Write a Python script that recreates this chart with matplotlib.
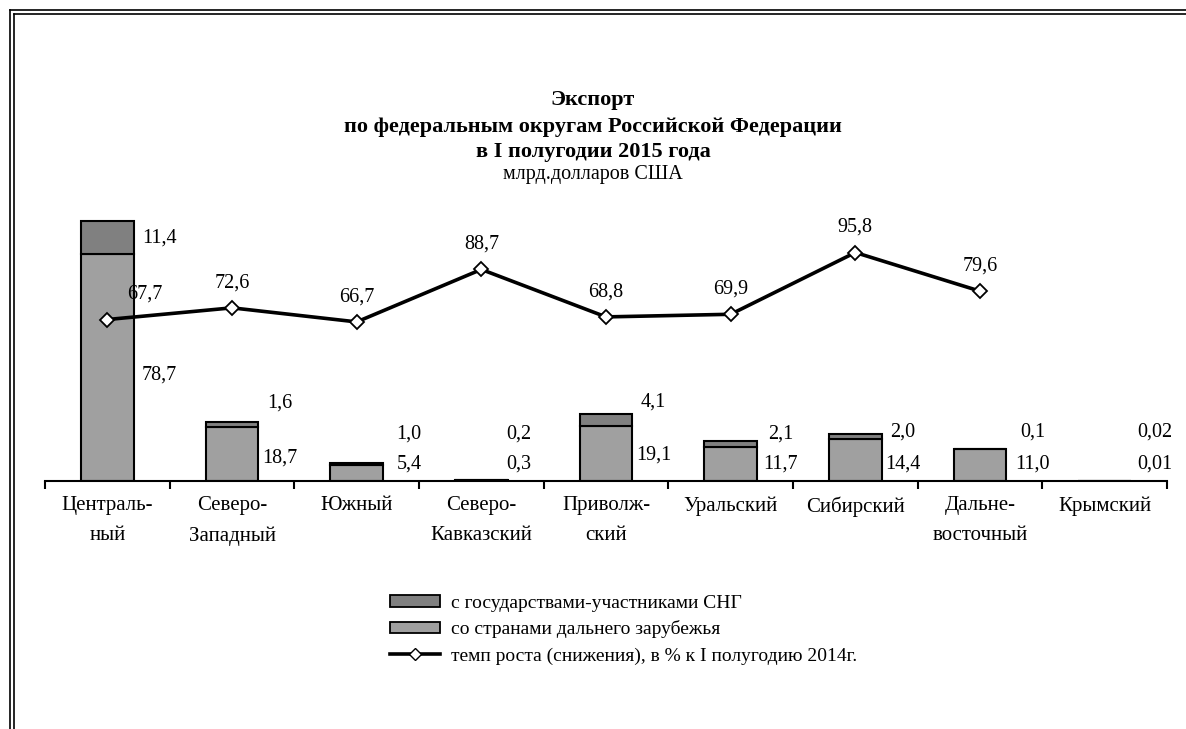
import numpy as np
import matplotlib.pyplot as plt
from matplotlib.lines import Line2D
from matplotlib.patches import Patch

plt.rcParams['font.family'] = ['Liberation Serif', 'DejaVu Serif']

districts = ['Централь-\nный', 'Северо-\nЗападный', 'Южный', 'Северо-\nКавказский',
             'Приволж-\nский', 'Уральский', 'Сибирский', 'Дальне-\nвосточный', 'Крымский']
far_abroad = [78.7, 18.7, 5.4, 0.3, 19.1, 11.7, 14.4, 11.0, 0.01]
cis = [11.4, 1.6, 1.0, 0.2, 4.1, 2.1, 2.0, 0.1, 0.02]
growth = [67.7, 72.6, 66.7, 88.7, 68.8, 69.9, 95.8, 79.6]

# где стоят подписи (в единицах левой оси) - подобрано по картинке
cis_lab_y = [84.2, 27.0, 16.3, 16.3, 27.4, 16.3, 17.0, 17.0, 17.0]
far_lab_y = [36.7, 8.0, 5.9, 5.9, 9.0, 5.9, 5.9, 5.9, 5.9]
lab_dx = [0.42, 0.38, 0.42, 0.30, 0.38, 0.40, 0.38, 0.42, 0.40]


def fmt(v):
    s = '{:.2f}'.format(v) if v < 0.1 else '{:.1f}'.format(v)
    return s.replace('.', ',')


fig = plt.figure(figsize=(11.86, 7.29), dpi=100)
ax = fig.add_axes([45 / 1186, 248 / 729, 1122 / 1186, 288.6 / 729])
ax2 = ax.twinx()

x = np.arange(len(districts))
width = 0.42
ax.bar(x, far_abroad, width, color='#a0a0a0', edgecolor='black', linewidth=1.5, zorder=2)
ax.bar(x, cis, width, bottom=far_abroad, color='#808080', edgecolor='black', linewidth=1.5, zorder=2)

xl = np.arange(len(growth))
ax2.plot(xl, growth, color='black', linewidth=2.6, marker='D', markersize=7,
         markerfacecolor='white', markeredgecolor='black', markeredgewidth=1.3, zorder=3)

ax.set_xlim(-0.5, len(districts) - 0.5)
ax.set_ylim(0, 100)
ax2.set_ylim(0, 121)

numfont = dict(fontsize=14.5, ha='center', va='center')
for i in range(len(districts)):
    ax.text(x[i] + lab_dx[i], cis_lab_y[i], fmt(cis[i]), **numfont)
    ax.text(x[i] + lab_dx[i], far_lab_y[i], fmt(far_abroad[i]), **numfont)

for i, g in enumerate(growth):
    dx = 0.3 if i == 0 else 0.0
    ax2.annotate(fmt(g), xy=(xl[i] + dx, g), xytext=(0, 18), textcoords='offset points',
                 **numfont)

for a in (ax, ax2):
    for s in ('top', 'right', 'left'):
        a.spines[s].set_visible(False)
    a.set_yticks([])
ax2.spines['bottom'].set_visible(False)
ax.spines['bottom'].set_linewidth(1.5)

ax.set_xticks(np.arange(-0.5, len(districts)), minor=False)
ax.set_xticklabels([])
ax.tick_params(axis='x', which='major', direction='out', length=6, width=1.5)
ax.set_xticks(x, minor=True)
ax.set_xticklabels(districts, minor=True, fontsize=15, linespacing=1.75)
ax.tick_params(axis='x', which='minor', length=0, pad=11)

# заголовок
fig.text(0.5, 1 - 100 / 729, 'Экспорт', ha='center', va='center', fontsize=16, fontweight='bold')
fig.text(0.5, 1 - 127 / 729, 'по федеральным округам Российской Федерации', ha='center',
         va='center', fontsize=16, fontweight='bold')
fig.text(0.5, 1 - 152 / 729, 'в I полугодии 2015 года', ha='center', va='center',
         fontsize=16, fontweight='bold')
fig.text(0.5, 1 - 175 / 729, 'млрд.долларов США', ha='center', va='center', fontsize=14.5)

handles = [Patch(facecolor='#808080', edgecolor='black', linewidth=1.3),
           Patch(facecolor='#a0a0a0', edgecolor='black', linewidth=1.3),
           Line2D([], [], color='black', linewidth=2.6, marker='D', markersize=6,
                  markerfacecolor='white', markeredgecolor='black')]
fig.legend(handles, ['с государствами-участниками СНГ', 'со странами дальнего зарубежья',
                     'темп роста (снижения), в % к I полугодию 2014г.'],
           loc='upper left', bbox_to_anchor=(380 / 1186, 1 - 585 / 729), frameon=False,
           fontsize=14, handlelength=2.6, handleheight=0.55, labelspacing=0.45, handletextpad=0.55,
           borderpad=0)

# двойная рамка
for off in (10, 13.5):
    fig.add_artist(Line2D([off / 1186, off / 1186], [0, 1 - off / 729], color='black',
                          linewidth=1.2, transform=fig.transFigure))
    fig.add_artist(Line2D([off / 1186, 1], [1 - off / 729, 1 - off / 729], color='black',
                          linewidth=1.2, transform=fig.transFigure))

plt.savefig('out.png', dpi=100)
